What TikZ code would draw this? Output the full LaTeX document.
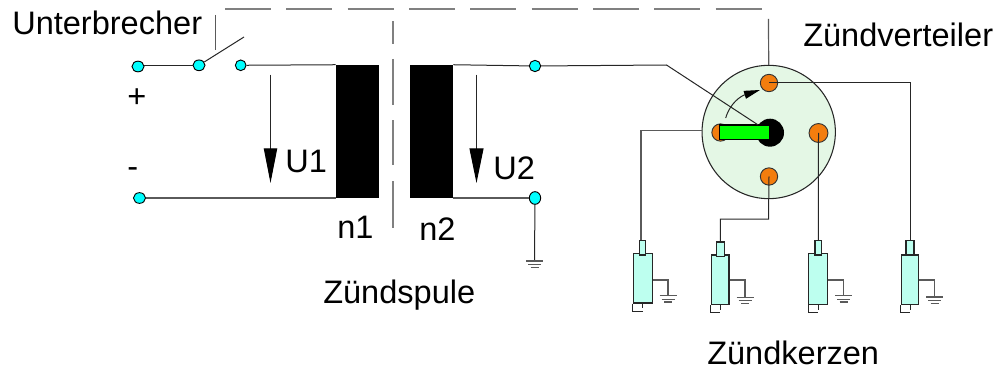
\documentclass[tikz,border=0pt]{standalone}
\usepackage{fontspec}
\setmainfont{Liberation Sans}
\usetikzlibrary{arrows.meta,shapes.geometric}
\def\px{0.75pt}
\definecolor{wirecol}{HTML}{262626}
\definecolor{dashcol}{HTML}{808080}
\definecolor{discfill}{HTML}{E4F7E5}
\definecolor{contactfill}{HTML}{F37D0E}
\definecolor{plugfill}{HTML}{BDFFEF}
\definecolor{termfill}{HTML}{00FFFF}
\definecolor{rotorfill}{HTML}{00FF00}
\tikzset{
  wire/.style={draw=wirecol,line width=0.75pt},
  graywire/.style={draw=dashcol!70!black,line width=0.9pt},
  linkdash/.style={draw=dashcol,line width=1.4pt,dash pattern=on 34.6pt off 11.4pt},
  terminal/.style={ellipse,draw=black,line width=0.7pt,fill=termfill,inner sep=0pt,minimum width=9pt,minimum height=8pt},
  coil/.style={rectangle,fill=black,inner sep=0pt,minimum width=32.25pt,minimum height=99.75pt},
  contact/.style={circle,draw=black!80,line width=0.7pt,fill=contactfill,inner sep=0pt,minimum size=13pt},
  plugbody/.style={rectangle,draw=wirecol,line width=0.9pt,fill=plugfill,inner sep=0pt},
  label/.style={anchor=base west,inner sep=0pt,font=\fontsize{24.4}{24.4}\selectfont},
  voltage/.style={wire,-{Triangle[length=26pt,width=10pt,color=black]}},
  earth/.pic={
    \draw[graywire] (-8.5,0) -- (8.5,0);
    \draw[graywire] (-6.5,3.6) -- (6.5,3.6);
    \draw[graywire] (-4,6.2) -- (4,6.2);
  }
}
% #1 name, #2 centre x, #3 body width, #4 body top, #5 body bottom,
% #6 cap width, #7 cap top, #8 earth x, #9 earth top y
\newcommand\sparkplug[9]{
  \node[plugbody,minimum width=#3*\px,minimum height={(#5-#4)*\px}] (#1) at (#2,{(#4+#5)/2}) {};
  \node[plugbody,minimum width=#6*\px,minimum height=14.5*\px] (#1cap) at (#2,{#7+7}) {};
  \coordinate (#1tail) at (#2,{#5+8});
  \coordinate (#1tick) at (#2,{#5+5});
  \coordinate (#1g) at (#8,280);
  \coordinate (#1e) at (#8,#9);
  \draw[wire] (#1.south west) |- (#1tail);
  \draw[wire] (#1.south -| #1tick) -- (#1tick);
  \draw[graywire] (#1.east |- #1g) -- (#1g) -- (#1e);
  \pic at (#1e) {earth};
}
\begin{document}
\begin{tikzpicture}[x=\px,y=-\px]
\useasboundingbox (0,0) rectangle (999,374);

% mechanical link
\coordinate (linkA) at (225,9);
\coordinate (linkB) at (763,9);
\coordinate (linkC) at (393,21.5);
\coordinate (linkD) at (393,228);
\coordinate (capA) at (215.7,15);
\coordinate (capB) at (215.7,50);
\draw[linkdash] (linkA) -- (linkB);
\draw[linkdash,dash pattern=on 17pt off 11pt on 34.5pt off 11.5pt on 34pt off 12pt on 34.5pt off 11pt] (linkC) -- (linkD);
\draw[graywire] (capA) -- (capB);

% coils
\node[coil] (n1) at (357.5,131.5) {};
\node[coil] (n2) at (431.5,131.5) {};

% terminals
\node[terminal] (plus) at (138,66.5) {};
\node[terminal] (sw1) at (199,65.3) {};
\node[terminal,minimum width=8pt] (sw2) at (240.7,65.3) {};
\node[terminal] (minus) at (139.5,198) {};
\node[terminal,minimum width=8.5pt,minimum height=8.5pt] (t2a) at (535,66) {};
\node[terminal,minimum width=8.5pt,minimum height=9.5pt] (t2b) at (535,198) {};

\coordinate (lever) at (244,37);
\draw[wire] (plus.east |- sw1) -- (sw1);
\draw[wire] (sw1) -- (lever);
\draw[wire] (sw2) -- (n1.north west);
\draw[graywire] (minus) -- (n1.west |- minus);
\draw[wire] (n2.north east) -- (t2a);
\draw[graywire] (n2.east |- t2b) -- (t2b);

% earth of the secondary
\coordinate (e2) at (534.5,261);
\draw[wire] (t2b) -- (e2);
\pic at (e2) {earth};

% voltage arrows
\coordinate (u1s) at (270.5,74.7);
\coordinate (u1e) at (270.5,183);
\coordinate (u2s) at (476.5,74.7);
\coordinate (u2e) at (476.5,183);
\draw[voltage] (u1s) -- (u1e);
\draw[voltage,-{Triangle[length=26pt,width=10.5pt,color=black]}] (u2s) -- (u2e);

% distributor
\coordinate (distIn) at (768.5,19);
\node[circle,draw=wirecol,line width=0.8pt,fill=discfill,inner sep=0pt,minimum size=100pt] (disc) at (768.7,132) {};
\draw[graywire] (distIn) -- (disc.north);

% distributor leads (behind the contacts)
\coordinate (l1) at (641,130.7);
\coordinate (l2) at (768.5,219);
\coordinate (l4) at (910.5,83);

\node[contact] (ctop) at (769,83) {};
\node[contact,minimum size=14.2pt] (cright) at (818.5,133) {};
\node[contact] (cbottom) at (769,176.5) {};
\node[contact] (cleft) at (720.5,132.5) {};
\node[circle,fill=black,inner sep=0pt,minimum size=21pt] (hub) at (770,132.7) {};
\node[rectangle,draw=black,line width=0.8pt,fill=rotorfill,inner sep=0pt,minimum width=37.2pt,minimum height=11.2pt] (rotor) at (744.5,132.5) {};
\coordinate (bend) at (666.5,65);
\draw[wire] (t2a) -- (bend) -- (hub);
\coordinate (sweepA) at (725.7,118);
\coordinate (sweepB) at (760,90);
\draw[wire,-{Triangle[length=12pt,width=6pt,color=black]}] (sweepA) .. controls (730,103) and (741,96) .. (sweepB);

% spark plugs
\sparkplug{p1}{642.6}{19}{253.5}{303}{6.5}{240.7}{668}{295.7}
\sparkplug{p2}{720.3}{17.5}{255}{304.7}{7.6}{242.3}{745}{297.2}
\sparkplug{p3}{818.3}{19}{253.5}{304.7}{6.5}{240.7}{843.7}{295.7}
\sparkplug{p4}{910}{17.5}{255}{304.7}{8}{240.7}{934.7}{297}

\draw[graywire] (disc.west |- l1) -- (l1) -- (p1cap.north -| l1);
\draw[wire] (cbottom.center) -- (l2) -- (l2 -| p2cap) -- (p2cap.north);
\draw[wire] (cright.center) -- (p3cap.north);
\draw[wire] (ctop.center) -- (l4) -- (p4cap.north -| l4);

% labels
\node[label] (tUnt) at (12,35) {Unterbrecher};
\node[label] (tPlus) at (127,108) {+};
\node[label] (tMinus) at (127,178) {-};
\node[label] (tU1) at (285,173) {U1};
\node[label] (tU2) at (493,180) {U2};
\node[label] (tn1) at (337,238) {n1};
\node[label] (tn2) at (419,240) {n2};
\node[label] (tSpule) at (323,303) {Zündspule};
\node[label] (tKerzen) at (707,364) {Zündkerzen};
\node[label] (tVert) at (803,47) {Zündverteiler};
\end{tikzpicture}
\end{document}
